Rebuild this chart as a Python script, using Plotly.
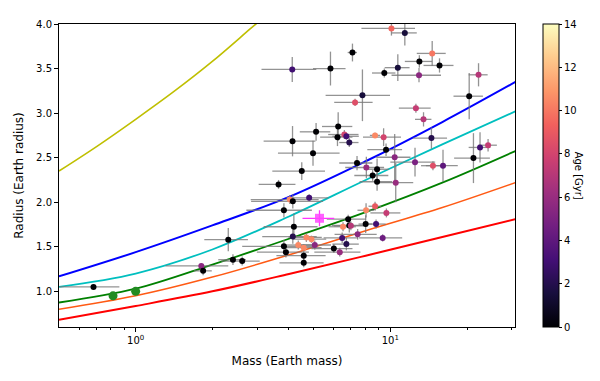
import plotly.graph_objects as go

# ---- planet sample (mass, radius, errors, age) ----
mass = [10.1, 11.4, 7.1, 4.12, 5.82, 14.6, 13.0, 15.6, 10.7, 9.47,
        12.96, 22.2, 7.77, 7.27, 20.4, 12.6, 13.5, 4.13, 5.11, 6.24,
        6.2, 6.6, 6.72, 6.9, 8.71, 9.41, 4.97, 4.49, 3.64, 9.62,
        14.5, 10.4, 12.5, 14.7, 16.1, 21.2, 22.5, 24.2, 7.4, 8.05,
        8.87, 8.52, 8.87, 10.5, 4.8, 4.03, 4.14, 3.82, 4.18, 4.14,
        3.82, 3.89, 4.35, 4.57, 4.57, 4.57, 4.68, 4.9, 5.05, 6.0,
        6.33, 6.47, 6.72, 6.52, 6.83, 6.9, 7.0, 7.44, 8.03, 8.71,
        9.65, 8.0, 8.79, 9.33, 2.31, 2.41, 2.62, 1.81, 1.84, 0.683]
radius = [3.95, 3.90, 3.68, 3.49, 3.50, 3.67, 3.58, 3.535, 3.51, 3.45,
          3.425, 3.43, 3.20, 3.12, 3.19, 3.055, 2.93, 2.685, 2.79, 2.85,
          2.73, 2.76, 2.74, 2.67, 2.75, 2.73, 2.55, 2.35, 2.20, 2.59,
          2.72, 2.505, 2.45, 2.41, 2.41, 2.495, 2.615, 2.64, 2.44, 2.39,
          2.37, 2.30, 2.23, 2.22, 2.05, 2.03, 2.01, 1.91, 1.725, 1.615,
          1.505, 1.44, 1.52, 1.49, 1.40, 1.32, 1.605, 1.585, 1.52, 1.48,
          1.44, 1.60, 1.53, 1.725, 1.81, 1.74, 1.735, 1.64, 1.91, 1.955,
          1.88, 1.755, 1.755, 1.60, 1.58, 1.355, 1.34, 1.285, 1.23, 1.05]
mass_err = [2.4, 1.3, 0.3, 1.0, 0.85, 1.9, 1.6, 2.1, 1.2, 1.0,
            2.85, 1.9, 2.2, 1.25, 2.7, 1.8, 1.0, 0.95, 0.7, 0.85,
            0.9, 0.9, 0.8, 0.6, 0.4, 1.6, 1.35, 1.05, 0.6, 1.5,
            2.2, 1.6, 2.5, 1.5, 2.3, 3.4, 2.2, 2.0, 1.1, 1.4,
            1.0, 1.3, 1.3, 1.8, 0.9, 1.2, 1.3, 1.1, 1.0, 1.0,
            1.2, 0.9, 0.6, 0.8, 1.0, 0.9, 0.7, 0.7, 0.8, 1.1,
            1.3, 1.0, 0.8, 0.8, 1.2, 1.0, 1.0, 1.4, 0.6, 0.5,
            1.3, 0.5, 0.8, 1.8, 0.45, 0.3, 0.45, 0.5, 0.15, 0.18]
radius_err = [0.08, 0.14, 0.1, 0.14, 0.19, 0.14, 0.07, 0.08, 0.15, 0.05,
              0.08, 0.13, 0.29, 0.04, 0.26, 0.05, 0.08, 0.17, 0.1, 0.16,
              0.1, 0.05, 0.04, 0.05, 0.03, 0.1, 0.14, 0.1, 0.05, 0.07,
              0.12, 0.26, 0.16, 0.05, 0.18, 0.28, 0.17, 0.07, 0.08, 0.12,
              0.12, 0.06, 0.1, 0.22, 0.04, 0.05, 0.08, 0.08, 0.15, 0.08,
              0.07, 0.06, 0.05, 0.04, 0.05, 0.05, 0.05, 0.04, 0.05, 0.05,
              0.05, 0.06, 0.07, 0.05, 0.05, 0.08, 0.05, 0.06, 0.08, 0.05,
              0.05, 0.1, 0.05, 0.04, 0.13, 0.06, 0.05, 0.03, 0.05, 0.02]
age = [9.5, 1.5, 0, 3, 0, 10, 0, 0, 1.5, 0,
       5.5, 7, 1.5, 8.5, 0, 7.5, 7, 0, 0, 0,
       0, 8, 3, 2, 10.5, 8, 0, 0, 0, 0,
       2, 5.5, 5, 8.5, 4, 0, 3, 7.5, 0, 6,
       0, 0, 0, 6, 3, 10.5, 0, 0, 0, 2,
       0, 0, 10.5, 10.5, 0, 0, 10.5, 10.5, 5.5, 0,
       6, 3, 2, 10.5, 0, 0, 7, 5.5, 10.5, 9,
       7.5, 0, 3, 4.5, 0, 0, 0, 5.5, 0, 0]

# target planet
target_mass = [5.27]
target_radius = [1.82]
target_mass_err = [0.75]
target_radius_err = [0.09]

# Venus and Earth
solar_mass = [0.815, 1.0]
solar_radius = [0.95, 1.0]

# ---- composition curves (mass, radius) ----
curve_mass = [0.5, 1.0, 2.0, 4.0, 8.0, 16.0, 31.0]
curve_rad_red = [0.68, 0.835, 1.0, 1.195, 1.40, 1.61, 1.81]
curve_rad_orange = [0.80, 0.95, 1.16, 1.41, 1.68, 1.94, 2.22]
curve_rad_green = [0.875, 1.03, 1.30, 1.59, 1.89, 2.22, 2.575]
curve_rad_cyan = [1.05, 1.20, 1.47, 1.84, 2.25, 2.65, 3.02]
curve_rad_blue = [1.168, 1.44, 1.74, 2.06, 2.46, 2.90, 3.35]
curve_mass_yellow = [0.5, 0.707, 1.0, 1.41, 2.0, 2.83, 3.2]
curve_rad_yellow = [2.35, 2.63, 2.93, 3.24, 3.58, 3.95, 4.08]

curves = [
    (curve_mass_yellow, curve_rad_yellow, "#bfbf00", 1.6),
    (curve_mass, curve_rad_blue, "#0000ff", 2.0),
    (curve_mass, curve_rad_cyan, "#00bfbf", 1.8),
    (curve_mass, curve_rad_green, "#008000", 1.8),
    (curve_mass, curve_rad_orange, "#ff5a14", 1.5),
    (curve_mass, curve_rad_red, "#ff0000", 2.0),
]

fig = go.Figure()

for cm, cr, col, w in curves:
    fig.add_trace(go.Scatter(x=cm, y=cr, mode="lines",
                             line=dict(color=col, width=w, shape="spline", smoothing=1.0),
                             showlegend=False, hoverinfo="skip"))

fig.add_trace(go.Scatter(
    x=mass, y=radius, mode="markers",
    error_x=dict(type="data", array=mass_err, color="rgba(120,120,120,0.8)", thickness=1.3, width=0),
    error_y=dict(type="data", array=radius_err, color="rgba(120,120,120,0.8)", thickness=1.3, width=0),
    marker=dict(size=6, color=age, coloraxis="coloraxis", line=dict(width=0)),
    showlegend=False))

fig.add_trace(go.Scatter(
    x=target_mass, y=target_radius, mode="markers",
    error_x=dict(type="data", array=target_mass_err, color="#ff33ff", thickness=1.3, width=0),
    error_y=dict(type="data", array=target_radius_err, color="#ff33ff", thickness=1.3, width=0),
    marker=dict(size=9, symbol="square", color="rgba(255,70,255,0.85)", line=dict(width=0)),
    showlegend=False))

fig.add_trace(go.Scatter(
    x=solar_mass, y=solar_radius, mode="markers",
    marker=dict(size=9, color="#228b22", line=dict(width=0)),
    showlegend=False))

font = dict(family="DejaVu Sans", size=10, color="black")

# page body has an 8px default margin, so the figure is 8px smaller
fig.update_layout(
    width=592, height=373,
    margin=dict(l=51, r=85, t=10, b=54),
    paper_bgcolor="white", plot_bgcolor="white",
    font=font,
    coloraxis=dict(
        colorscale="Magma", cmin=0, cmax=14,
        colorbar=dict(
            x=1.061, xanchor="left", xpad=0, ypad=0,
            y=0.5, yanchor="middle", len=1.0, lenmode="fraction",
            thickness=16, outlinewidth=1, outlinecolor="black",
            tickmode="array", tickvals=[0, 2, 4, 6, 8, 10, 12, 14],
            ticks="outside", ticklen=3, tickcolor="black",
            tickfont=dict(family="DejaVu Sans", size=10),
        ),
    ),
    annotations=[dict(
        text="Age [Gyr]", x=1.14, y=0.5, xref="paper", yref="paper",
        textangle=90, showarrow=False, xanchor="center", yanchor="middle",
        font=dict(family="DejaVu Sans", size=10))],
)

fig.update_xaxes(
    type="log", range=[-0.30103, 1.4895],
    tickvals=[1, 10], ticktext=["10<sup>0</sup>", "10<sup>1</sup>"],
    ticks="outside", ticklen=4, tickcolor="black",
    minor=dict(tickvals=[0.6, 0.7, 0.8, 0.9, 2, 3, 4, 5, 6, 7, 8, 9, 20, 30],
               ticks="outside", ticklen=2, tickcolor="black", showgrid=False),
    showline=True, linecolor="black", linewidth=1, mirror=True,
    showgrid=False, zeroline=False,
    title=dict(text="Mass (Earth mass)", standoff=11),
)
fig.update_yaxes(
    range=[0.6, 4.0],
    tickvals=[1.0, 1.5, 2.0, 2.5, 3.0, 3.5, 4.0],
    ticktext=["1.0", "1.5", "2.0", "2.5", "3.0", "3.5", "4.0"],
    ticks="outside", ticklen=4, tickcolor="black",
    showline=True, linecolor="black", linewidth=1, mirror=True,
    showgrid=False, zeroline=False,
    title=dict(text="Radius (Earth radius)", standoff=9),
)

fig.write_html("out.html")
